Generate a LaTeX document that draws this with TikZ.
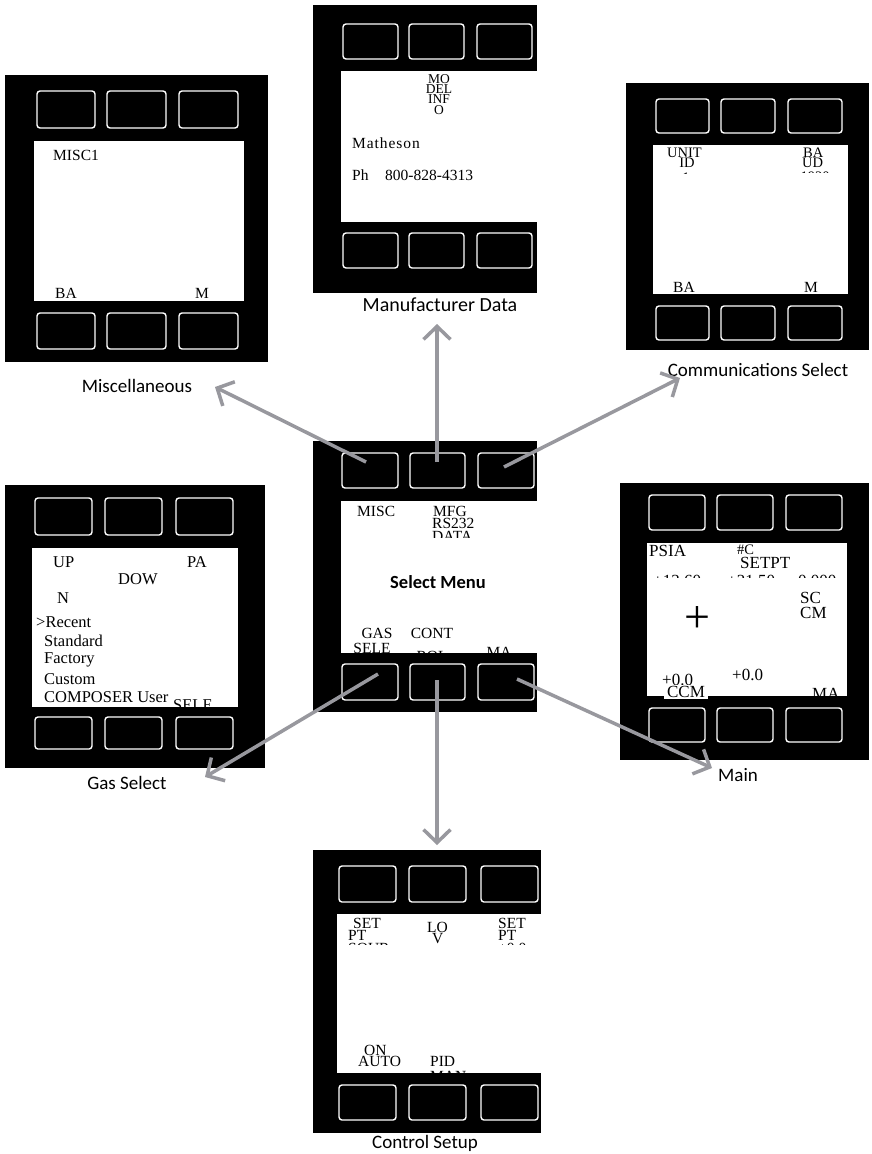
\documentclass[tikz,border=0pt]{standalone}
\usepackage{fontspec}
\setmainfont{Liberation Serif}
\newfontfamily\labfont{Carlito}
\usetikzlibrary{arrows.meta}
\definecolor{arrgray}{RGB}{152,152,158}
\newcommand\btn[5]{\node[btn, minimum width={(#4-#2)*1pt}, minimum height={(#5-#3)*1pt}] (#1) at ({(#2+#4)/2},{(#3+#5)/2}) {};}
\newcommand\devbody[8]{%
  \fill[black] (#1,#2) rectangle (#3,#4);
  \fill[white] (#5,#6) rectangle (#7,#8);}
\tikzset{
  btn/.style={draw=white, line width=1.4pt, rounded corners=3pt, fill=black, inner sep=0pt, outer sep=0pt},
  tx/.style={inner sep=0pt, anchor=west, font=\fontsize{15.5}{15.5}\selectfont},
  txc/.style={inner sep=0pt, anchor=center, font=\fontsize{15.5}{15.5}\selectfont},
  txs/.style={inner sep=0pt, anchor=center, font=\fontsize{13.5}{13.5}\selectfont},
  big/.style={font=\fontsize{17}{17}\selectfont},
  gas/.style={font=\fontsize{16.5}{16.5}\selectfont},
  lbl/.style={inner sep=0pt, font=\labfont\fontsize{19}{19}\selectfont},
  arr/.style={draw=arrgray, line width=3.5pt, -{Straight Barb[length=13pt,width=27pt,line width=3.5pt]}}
}
\begin{document}
\begin{tikzpicture}[x=1pt,y=-1pt]
\useasboundingbox (0,0) rectangle (872,1154);
\fill[white] (0,0) rectangle (872,1154);

% ---------- Miscellaneous ----------
\devbody{5}{75}{268}{362}{34}{141}{244}{301}
\btn{mi-t1}{37}{91}{95}{128}\btn{mi-t2}{107}{91}{166}{128}\btn{mi-t3}{179}{91}{238}{128}
\btn{mi-b1}{37}{313}{95}{349}\btn{mi-b2}{107}{313}{166}{349}\btn{mi-b3}{179}{313}{238}{349}
\node[tx] (mi-a) at (53,155) {MISC1};
\node[tx] (mi-b) at (55,293) {BA};
\node[txc] (mi-c) at (202,293) {M};
\node[lbl] (mi-l) at (137,386) {Miscellaneous};

% ---------- Manufacturer Data ----------
\devbody{313}{5}{537}{293}{341}{71}{537}{222}
\btn{mf-t1}{343}{24}{398}{59}\btn{mf-t2}{409}{24}{464}{59}\btn{mf-t3}{477}{24}{532}{59}
\btn{mf-b1}{343}{233}{398}{268}\btn{mf-b2}{409}{233}{464}{268}\btn{mf-b3}{477}{233}{532}{268}
\node[txs] (mf-a) at (439,79) {MO};
\node[txs] (mf-b) at (439,89) {DEL};
\node[txs] (mf-c) at (439,99) {INF};
\node[txs] (mf-d) at (439,110) {O};
\node[tx] (mf-e) at (352,143) {\addfontfeature{LetterSpace=6}Matheson};
\node[tx] (mf-f) at (352,175) {Ph};
\node[tx] (mf-g) at (385,175) {800-828-4313};
\node[lbl,font=\labfont\fontsize{20}{20}\selectfont] (mf-l) at (440,305) {Manufacturer Data};

% ---------- Communications Select ----------
\devbody{626}{83}{869}{350}{653}{145}{848}{294}
\btn{co-t1}{656}{99}{709}{133}\btn{co-t2}{721}{99}{775}{133}\btn{co-t3}{788}{99}{842}{133}
\btn{co-b1}{656}{306}{709}{340}\btn{co-b2}{721}{306}{775}{340}\btn{co-b3}{788}{306}{842}{340}
\node[tx,font=\fontsize{14.5}{14.5}\selectfont] (co-a) at (667,153) {UNIT};
\node[txc,font=\fontsize{14.5}{14.5}\selectfont] (co-b) at (687,163) {ID};
\node[tx,font=\fontsize{14.5}{14.5}\selectfont] (co-c) at (803,153) {BA};
\node[tx,font=\fontsize{14.5}{14.5}\selectfont] (co-d) at (802,163) {UD};
\begin{scope}
\clip (780,100) rectangle (848,172.5);
\node[txc,font=\fontsize{14.5}{14.5}\selectfont] (co-e) at (815,177) {1920};
\end{scope}
\begin{scope}
\clip (660,100) rectangle (720,173.5);
\node[txc,font=\fontsize{14.5}{14.5}\selectfont] (co-f) at (686,178) {1};
\end{scope}
\node[tx] (co-g) at (673,287) {BA};
\node[txc] (co-h) at (811,287) {M};
\node[lbl] (co-l) at (758,370) {Communications Select};

% ---------- Select Menu ----------
\devbody{313}{441}{537}{712}{341}{501}{537}{653}
\btn{sm-t1}{342}{453}{398}{488}\btn{sm-t2}{410}{453}{465}{488}\btn{sm-t3}{478}{453}{534}{488}
\btn{sm-b1}{342}{664}{398}{700}\btn{sm-b2}{410}{664}{465}{700}\btn{sm-b3}{478}{664}{534}{700}
\node[tx] (sm-a) at (357,511) {MISC};
\node[tx] (sm-b) at (433,511) {MFG};
\node[tx] (sm-c) at (432,523) {RS232};
\begin{scope}
\clip (341,501) rectangle (537,537);
\node[tx] (sm-d) at (432,536) {DATA};
\end{scope}
\node[inner sep=0pt, font=\labfont\bfseries\fontsize{18.5}{18.5}\selectfont] (sm-e) at (438,582) {Select Menu};
\node[txc] (sm-f) at (377,633) {GAS};
\node[txc] (sm-g) at (432,633) {CONT};
\begin{scope}
\clip (341,501) rectangle (537,653);
\node[txc] (sm-h) at (372,648) {SELE};
\node[txc] (sm-i) at (432,656) {ROL};
\node[txc] (sm-j) at (499,652) {MA};
\end{scope}

% ---------- Gas Select ----------
\devbody{5}{485}{265}{768}{32}{548}{238}{707}
\btn{gs-t1}{35}{498}{92}{535}\btn{gs-t2}{105}{498}{162}{535}\btn{gs-t3}{176}{498}{233}{535}
\btn{gs-b1}{35}{717}{92}{749}\btn{gs-b2}{105}{717}{162}{749}\btn{gs-b3}{176}{717}{233}{749}
\node[tx,gas] (gs-a) at (53,562) {UP};
\node[tx,gas] (gs-b) at (187,562) {PA};
\node[tx,gas] (gs-c) at (118,579) {DOW};
\node[tx,gas] (gs-d) at (57,598) {N};
\node[tx,gas] (gs-e) at (36,622) {>Recent};
\node[tx,gas] (gs-f) at (44,641) {Standard};
\node[tx,gas] (gs-g) at (44,660) {Factory};
\node[tx,gas] (gs-h) at (44,679) {Custom};
\node[tx,gas] (gs-i) at (44,697) {COMPOSER User};
\begin{scope}
\clip (172,690) rectangle (238,707.5);
\node[tx,gas] (gs-j) at (173,705) {SELE};
\end{scope}
\node[lbl] (gs-l) at (127,783) {Gas Select};

% ---------- Main ----------
\devbody{620}{483}{869}{760}{647}{543}{847}{696}
\btn{ma-t1}{649}{495}{705}{530}\btn{ma-t2}{717}{495}{773}{530}\btn{ma-t3}{786}{495}{842}{530}
\btn{ma-b1}{649}{708}{705}{742}\btn{ma-b2}{717}{708}{773}{742}\btn{ma-b3}{786}{708}{842}{742}
\node[tx,big] (ma-a) at (649,551) {PSIA};
\node[tx,font=\fontsize{14.5}{14.5}\selectfont] (ma-b) at (737,550) {\#C};
\node[tx,big] (ma-c) at (740,563) {SETPT};
\begin{scope}
\clip (647,560) rectangle (847,577);
\node[tx,big] (ma-d) at (653,581) {+13.60};
\node[tx,big] (ma-e) at (727,581) {+21.50};
\node[tx,big] (ma-f) at (798,581) {0.000};
\end{scope}
\node[inner sep=0pt, font=\fontsize{46}{46}\selectfont] (ma-g) at (697,619) {+};
\node[tx,big] (ma-h) at (800,598) {SC};
\node[tx,big] (ma-i) at (800,613) {CM};
\node[tx,big] (ma-j) at (662,680) {+0.0};
\node[tx,big] (ma-k) at (732,675) {+0.0};
\node[txc,big, fill=white, inner xsep=3pt, inner ysep=1pt] (ma-m) at (686,692) {CCM};
\begin{scope}
\clip (647,543) rectangle (847,696);
\node[tx,big] (ma-n) at (812,694) {MA};
\end{scope}
\node[lbl] (ma-l) at (738,775) {Main};

% ---------- Control Setup ----------
\devbody{313}{850}{541}{1133}{337}{914}{541}{1073}
\btn{cs-t1}{339}{866}{396}{902}\btn{cs-t2}{409}{866}{466}{902}\btn{cs-t3}{481}{866}{538}{902}
\btn{cs-b1}{339}{1085}{396}{1120}\btn{cs-b2}{409}{1085}{466}{1120}\btn{cs-b3}{481}{1085}{538}{1120}
\node[tx] (cs-a) at (353,923) {SET};
\node[tx] (cs-b) at (348,935) {PT};
\node[tx] (cs-c) at (427,927) {LO};
\node[tx] (cs-d) at (432,939) {V};
\node[tx] (cs-e) at (498,923) {SET};
\node[tx] (cs-f) at (498,935) {PT};
\begin{scope}
\clip (337,900) rectangle (541,944);
\node[tx] (cs-g) at (348,948) {SOUR};
\node[tx] (cs-h) at (498,948) {+0.0};
\end{scope}
\node[tx] (cs-i) at (364,1050) {ON};
\node[tx] (cs-j) at (358,1061) {AUTO};
\node[tx] (cs-k) at (430,1061) {PID};
\begin{scope}
\clip (337,1060) rectangle (541,1073);
\node[tx] (cs-m) at (430,1076) {MAN};
\end{scope}
\node[lbl] (cs-l) at (425,1143) {Control Setup};

% ---------- Arrows ----------
\coordinate (s1) at (366,462); \coordinate (e1) at (215,387);
\coordinate (s2) at (437,462); \coordinate (e2) at (437,324);
\coordinate (s3) at (504,467); \coordinate (e3) at (680,378);
\coordinate (s4) at (378,674); \coordinate (e4) at (205,777);
\coordinate (s5) at (437,680); \coordinate (e5) at (437,845);
\coordinate (s6) at (517,679); \coordinate (e6) at (712,768);
\draw[arr] (s1) -- (e1);
\draw[arr] (s2) -- (e2);
\draw[arr] (s3) -- (e3);
\draw[arr] (s4) -- (e4);
\draw[arr] (s5) -- (e5);
\draw[arr] (s6) -- (e6);
\end{tikzpicture}
\end{document}
